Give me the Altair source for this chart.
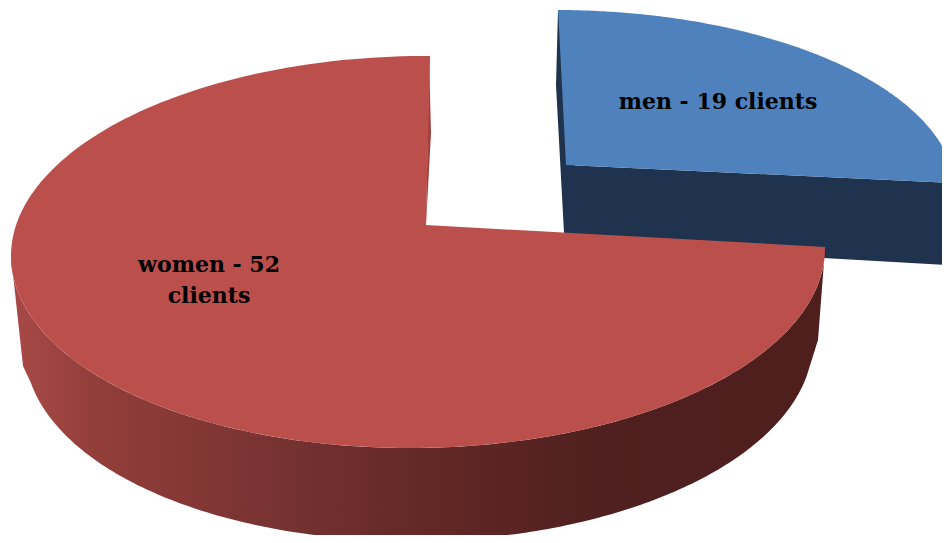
import numpy as np
import pandas as pd
import altair as alt

categories = ["men", "women"]
clients = [19, 52]
label_lines = [["men - 19 clients"], ["women - 52", "clients"]]


def arc(cx, cy, rx, ry, a0, a1, tilt=0.0, n=200):
    t = np.radians(np.linspace(a0, a1, n))
    x = cx + rx * np.cos(t)
    y = cy - ry * np.sin(t) + tilt * (cx - x) / rx
    return list(x), list(y)


def shape(name, xs, ys):
    return pd.DataFrame({"part": name, "x": xs, "y": ys, "o": range(len(xs))})


def h_grad(stops, x0, x1):
    return alt.Gradient(
        gradient="linear", x1=0, x2=1, y1=0, y2=0,
        stops=[alt.GradientStop(color=c, offset=(p - x0) / (x1 - x0)) for p, c in stops],
    )


X = alt.Scale(domain=[8, 942], range=[0, 934], nice=False, zero=False)
Y = alt.Scale(domain=[8, 535], range=[0, 527], nice=False, zero=False)


def poly(df, fill):
    return alt.Chart(df).mark_line(fill=fill, stroke=None, strokeWidth=0, interpolate="linear", clip=True).encode(
        x=alt.X("x:Q", scale=X, axis=None),
        y=alt.Y("y:Q", scale=Y, axis=None),
        order="o:Q",
    )


# Red slice: top ellipse and lower rim
rt = dict(cx=418, cy=252, rx=407, ry=196, tilt=4)
rb = dict(cx=419, cy=345, rx=394, ry=196, tilt=4)
ax, ay = arc(**rt, a0=88.3, a1=360.3)
tx, ty = arc(**rt, a0=-0.3, a1=-180)
bx, by = arc(**rb, a0=-170, a1=-10)
red_wall = shape("red wall", tx + [23] + bx + [818], ty + [366] + by + [340])
red_inner = shape("red inner", [429, 431, 426], [57, 133, 225])
red_top = shape("red top", ax + [426], ay + [225])

# Blue slice
bl = dict(cx=556, cy=194, rx=400, ry=184)
cx_, cy_ = arc(**bl, a0=89.7, a1=3.4)
blue_top = shape("blue top", [566] + cx_, [165] + cy_)
blue_wall = shape("blue wall", [566, 955, 945, 564], [165, 183, 265, 243])
blue_inner = shape("blue inner", [558, 556, 564, 575, 575], [10, 85, 233, 233, 20])

red_stops = [(12, "#a84a47"), (100, "#923d3a"), (300, "#733130"), (430, "#632826"), (600, "#4f201f"), (825, "#4e1f1d")]

layers = [
    poly(blue_wall, "#1f334f"),
    poly(blue_inner, "#1f334f"),
    poly(blue_top, "#4f81bd"),
    poly(red_wall, h_grad(red_stops, 12, 825)),
    poly(red_inner, "#a03f3c"),
    poly(red_top, "#bb4f4c"),
]

labels = pd.DataFrame({
    "text": [label_lines[0][0], label_lines[1][0], label_lines[1][1]],
    "x": [718, 209, 209],
    "y": [102, 265, 296],
})
text = alt.Chart(labels).mark_text(font="DejaVu Serif", fontSize=22, fontWeight="bold", color="#000000", align="center", baseline="middle").encode(
    x=alt.X("x:Q", scale=X, axis=None),
    y=alt.Y("y:Q", scale=Y, axis=None),
    text="text:N",
)

chart = alt.layer(*layers, text).properties(width=934, height=527, padding=0, background="#ffffff").configure_view(stroke=None)
chart.save("out.html", embed_options={"renderer": "svg", "actions": False})
